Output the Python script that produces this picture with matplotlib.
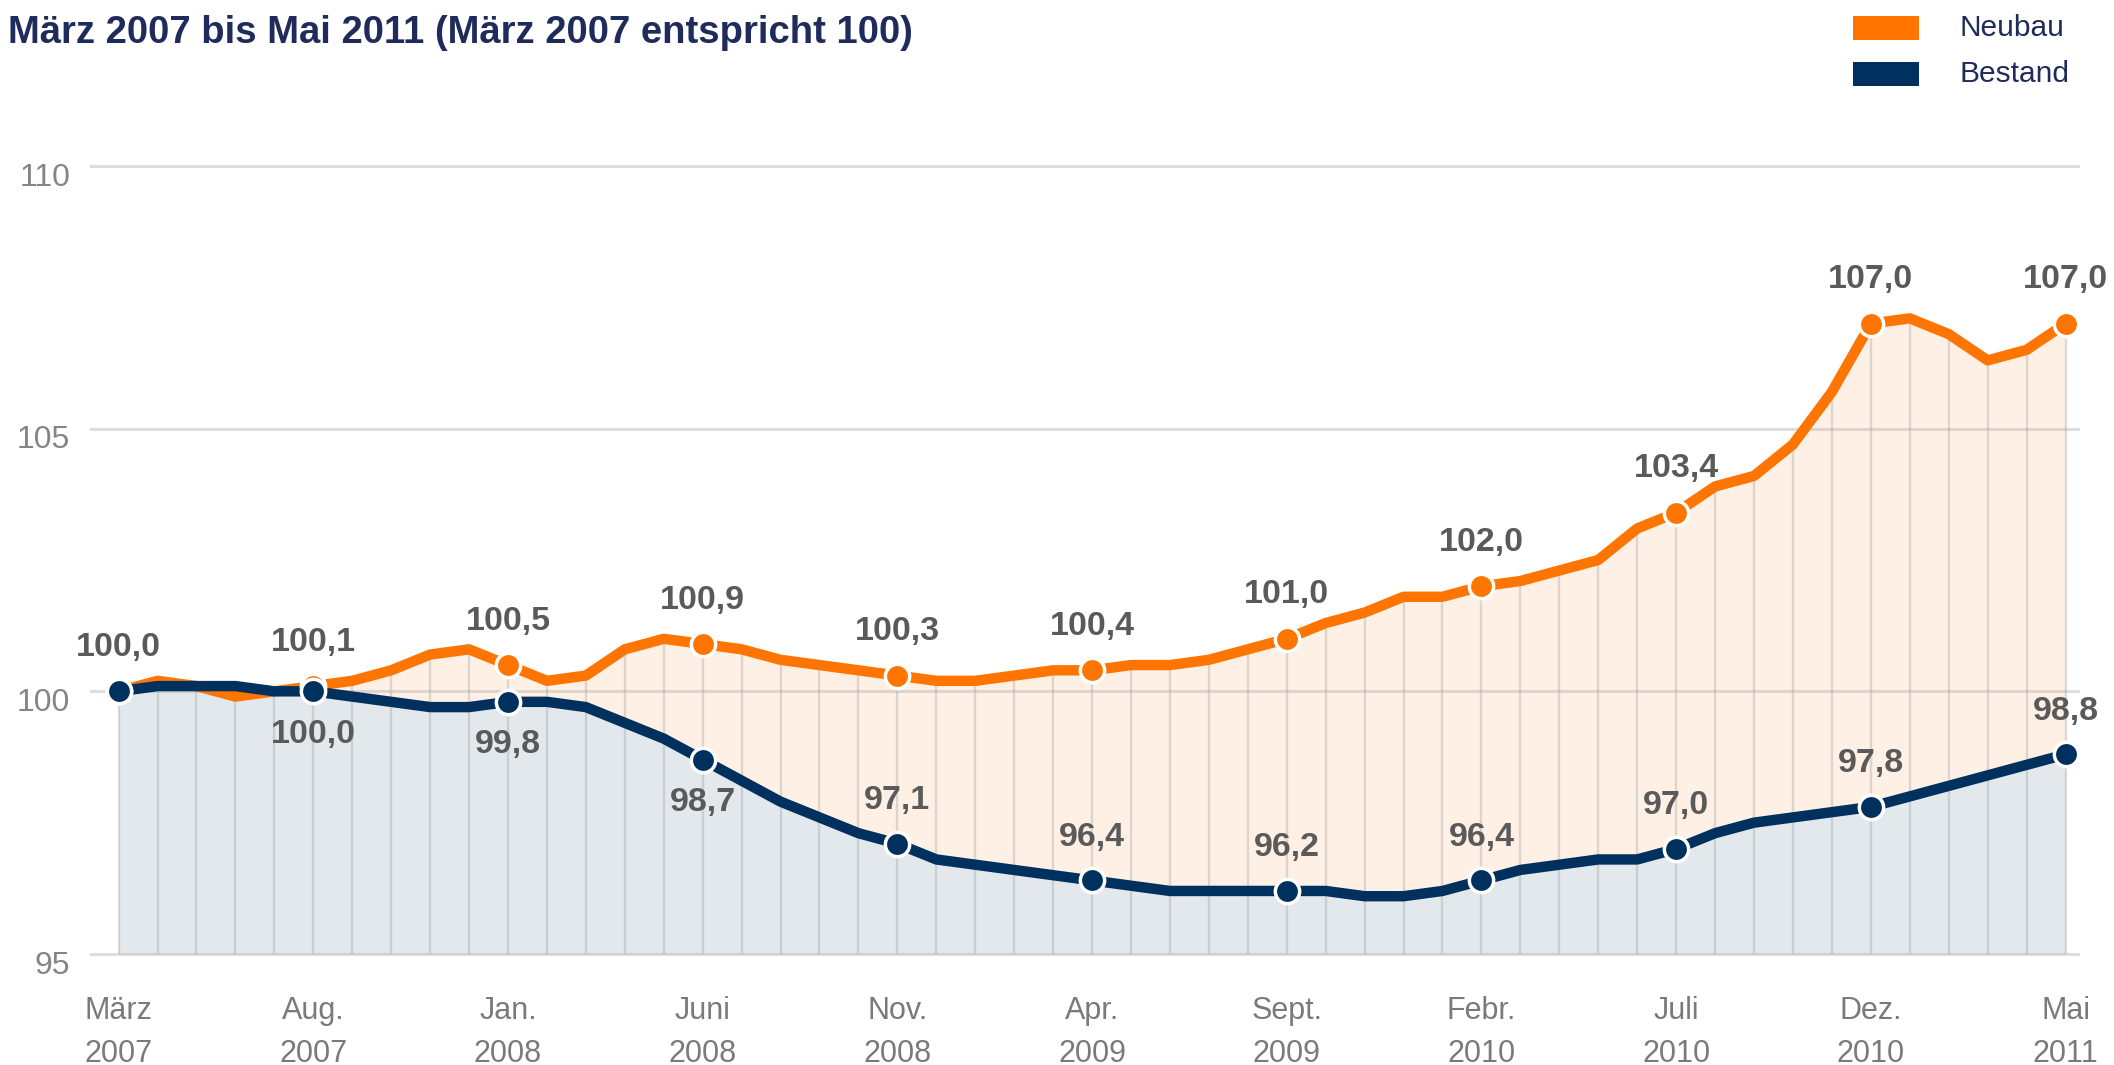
import matplotlib
matplotlib.use("Agg")
import matplotlib.pyplot as plt
from matplotlib.patches import Rectangle
from matplotlib.transforms import ScaledTranslation
from matplotlib import font_manager

# ---------------- data ----------------
months = list(range(51))  # März 2007 .. Mai 2011
neubau = [100.0, 100.2, 100.1, 99.9, 100.0, 100.1, 100.2, 100.4, 100.7, 100.8,
          100.5, 100.2, 100.3, 100.8, 101.0, 100.9, 100.8, 100.6, 100.5, 100.4,
          100.3, 100.2, 100.2, 100.3, 100.4, 100.4, 100.5, 100.5, 100.6, 100.8,
          101.0, 101.3, 101.5, 101.8, 101.8, 102.0, 102.1, 102.3, 102.5, 103.1,
          103.4, 103.9, 104.1, 104.7, 105.7, 107.0, 107.1, 106.8, 106.3, 106.5,
          107.0]
bestand = [100.0, 100.1, 100.1, 100.1, 100.0, 100.0, 99.9, 99.8, 99.7, 99.7,
           99.8, 99.8, 99.7, 99.4, 99.1, 98.7, 98.3, 97.9, 97.6, 97.3,
           97.1, 96.8, 96.7, 96.6, 96.5, 96.4, 96.3, 96.2, 96.2, 96.2,
           96.2, 96.2, 96.1, 96.1, 96.2, 96.4, 96.6, 96.7, 96.8, 96.8,
           97.0, 97.3, 97.5, 97.6, 97.7, 97.8, 98.0, 98.2, 98.4, 98.6,
           98.8]
label_idx = [0, 5, 10, 15, 20, 25, 30, 35, 40, 45, 50]
x_labels = ["März\n2007", "Aug.\n2007", "Jan.\n2008", "Juni\n2008", "Nov.\n2008",
            "Apr.\n2009", "Sept.\n2009", "Febr.\n2010", "Juli\n2010", "Dez.\n2010",
            "Mai\n2011"]
y_ticks = [95, 100, 105, 110]
bestand_below = [5, 10, 15]
title = "März 2007 bis Mai 2011 (März 2007 entspricht 100)"
series_names = ["Neubau", "Bestand"]

# ---------------- style ----------------
names = {f.name for f in font_manager.fontManager.ttflist}
FONT = "Liberation Sans" if "Liberation Sans" in names else "DejaVu Sans"
plt.rcParams["font.family"] = [FONT, "DejaVu Sans"]

ORANGE = "#ff7500"
NAVY = "#00305e"
ORANGE_FILL = "#fef0e5"
NAVY_FILL = "#e3e8ed"
TITLE_C = "#1f2b5b"
LABEL_C = "#5a5a5a"
TICK_C = "#858585"

W, H = 2114, 1065
fig = plt.figure(figsize=(W / 100, H / 100), dpi=100)
fig.patch.set_facecolor("white")

ax_left, ax_right, ax_top, ax_bot = 91, 2078, 166, 954
ax = fig.add_axes([ax_left / W, 1 - ax_bot / H, (ax_right - ax_left) / W, (ax_bot - ax_top) / H])
ax.set_facecolor("white")
per_month = (2065.5 - 118.6) / 50
ax.set_xlim(-(118.6 - ax_left) / per_month, 50 + (ax_right - 2065.5) / per_month)
ax.set_ylim(95, 110)
for s in ax.spines.values():
    s.set_visible(False)

# fills
ax.fill_between(months, 95, neubau, color=ORANGE_FILL, lw=0, zorder=1)
ax.fill_between(months, 95, bestand, color=NAVY_FILL, lw=0, zorder=1.1)
# vertical month lines inside the filled area
ax.vlines(months, 95, neubau, color="#999999", alpha=0.32, lw=1.7, zorder=1.5)
# horizontal grid lines
for yv in y_ticks:
    ax.axhline(yv, color="#aaaaaa", alpha=0.4, lw=2.2, zorder=1.6, clip_on=False)

# lines + markers
ax.plot(months, neubau, color=ORANGE, lw=7.5, solid_joinstyle="round", solid_capstyle="round", zorder=3)
ax.plot(months, bestand, color=NAVY, lw=7.5, solid_joinstyle="round", solid_capstyle="round", zorder=4)
ax.plot([months[i] for i in label_idx], [neubau[i] for i in label_idx], "o", ms=17.5,
        mfc=ORANGE, mec="white", mew=2.5, zorder=5, clip_on=False)
ax.plot([months[i] for i in label_idx], [bestand[i] for i in label_idx], "o", ms=17.5,
        mfc=NAVY, mec="white", mew=2.5, zorder=6, clip_on=False)

def fmt(v):
    return f"{v:.1f}".replace(".", ",")

lab_kw = dict(textcoords="offset pixels", ha="center", va="center", fontsize=24.5,
              fontweight="bold", color=LABEL_C, zorder=7, annotation_clip=False)
for i in label_idx:
    ax.annotate(fmt(neubau[i]), (months[i], neubau[i]), xytext=(0, 44), **lab_kw)
for i in label_idx[1:]:
    dy = -43 if i in bestand_below else 43
    ax.annotate(fmt(bestand[i]), (months[i], bestand[i]), xytext=(0, dy), **lab_kw)

# ticks
ax.set_yticks(y_ticks, [str(v) for v in y_ticks])
ax.set_xticks([months[i] for i in label_idx], x_labels)
ax.tick_params(axis="both", length=0)
ax.tick_params(axis="y", pad=15, labelsize=23, labelcolor=TICK_C)
ax.tick_params(axis="x", pad=30, labelsize=22, labelcolor="#7a7a7a")
for t in ax.get_yticklabels():
    t.set_transform(t.get_transform() + ScaledTranslation(0, -8 / 100, fig.dpi_scale_trans))
for t in ax.get_xticklabels():
    t.set_linespacing(1.58)

# title
fig.text(8 / W, 1 - 43 / H, title, fontsize=27.5, fontweight="bold", color=TITLE_C,
         ha="left", va="baseline")

# legend
for k, (name, col) in enumerate(zip(series_names, [ORANGE, NAVY])):
    yc = [28, 74][k]
    fig.add_artist(Rectangle((1853 / W, 1 - (yc + 12) / H), 66 / W, 24 / H,
                             transform=fig.transFigure, color=col, lw=0))
    fig.text(1959 / W, 1 - yc / H, name, fontsize=21.5, color=TITLE_C, ha="left", va="center")

fig.savefig("out.png", dpi=100, facecolor="white")
